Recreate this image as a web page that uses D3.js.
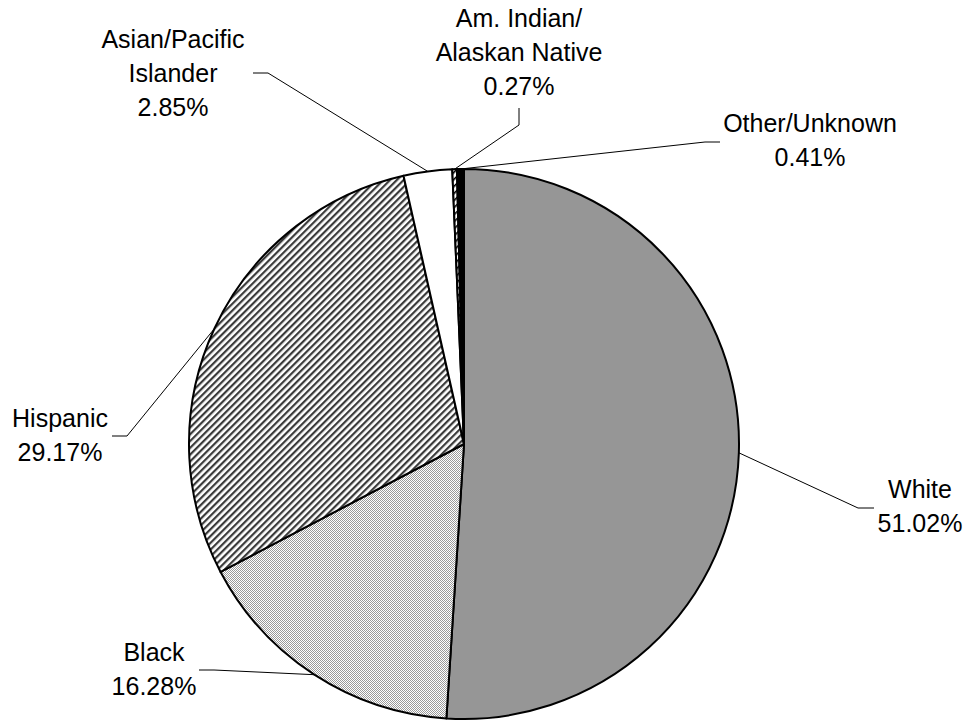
<!DOCTYPE html>
<html>
<head>
<meta charset="utf-8">
<script src="https://cdn.jsdelivr.net/npm/d3@7"></script>
<style>
  html, body { margin: 0; padding: 0; background: #fff; }
  svg { display: block; }
  text { font-family: "Liberation Sans", Arial, sans-serif; font-size: 25px; fill: #000; }
</style>
</head>
<body>
<svg id="chart" width="968" height="721"></svg>
<script>
// ---- data ----
const categories = ["White", "Black", "Hispanic", "Asian/Pacific Islander", "Am. Indian/Alaskan Native", "Other/Unknown"];
const values = [51.02, 16.28, 29.17, 2.85, 0.27, 0.41];
const labelLines = [
  ["White"],
  ["Black"],
  ["Hispanic"],
  ["Asian/Pacific", "Islander"],
  ["Am. Indian/", "Alaskan Native"],
  ["Other/Unknown"]
];

// ---- layout (positions/styles) ----
const cx = 464, cy = 444, R = 275;
const fills = ["#969696", "url(#dots)", "url(#stripes)", "#ffffff", "url(#hatch)", "#000000"];
const labelLayout = [
  { x: 920, y: 498, elbow: [858, 508], end: [874, 508] },
  { x: 154, y: 661, elbow: [214, 670], end: [199, 670] },
  { x: 60,  y: 427, elbow: [127, 436], end: [112, 436] },
  { x: 173, y: 48,  elbow: [268, 73],  end: [253, 73] },
  { x: 519, y: 27,  elbow: [519, 125], end: [519, 108] },
  { x: 810, y: 132, elbow: [705, 142], end: [720, 142] }
];
const lineH = 34;

const svg = d3.select("#chart");
const defs = svg.append("defs");

const pd = defs.append("pattern").attr("id", "dots").attr("patternUnits", "userSpaceOnUse")
  .attr("width", 2).attr("height", 2);
pd.append("rect").attr("width", 2).attr("height", 2).attr("fill", "#fff");
pd.append("rect").attr("x", 0).attr("y", 0).attr("width", 1).attr("height", 1).attr("fill", "#9a9a9a");
pd.append("rect").attr("x", 1).attr("y", 1).attr("width", 1).attr("height", 1).attr("fill", "#9a9a9a");

const ps = defs.append("pattern").attr("id", "stripes").attr("patternUnits", "userSpaceOnUse")
  .attr("width", 4.8).attr("height", 4.8).attr("patternTransform", "rotate(45)");
ps.append("rect").attr("width", 4.8).attr("height", 4.8).attr("fill", "#fff");
ps.append("rect").attr("x", 0).attr("y", 0).attr("width", 2.2).attr("height", 4.8).attr("fill", "#3a3a3a");

const ph = defs.append("pattern").attr("id", "hatch").attr("patternUnits", "userSpaceOnUse")
  .attr("width", 5).attr("height", 5).attr("patternTransform", "rotate(45)");
ph.append("rect").attr("width", 5).attr("height", 5).attr("fill", "#fff");
ph.append("rect").attr("x", 0).attr("y", 0).attr("width", 1.6).attr("height", 5).attr("fill", "#000");

const pie = d3.pie().sort(null).value(d => d).startAngle(0).endAngle(2 * Math.PI);
const arcs = pie(values);
const arc = d3.arc().innerRadius(0).outerRadius(R);

const g = svg.append("g").attr("transform", `translate(${cx},${cy})`);
g.selectAll("path.slice").data(arcs).enter().append("path")
  .attr("class", "slice")
  .attr("d", arc)
  .attr("fill", (d, i) => fills[i])
  .attr("stroke", "#000")
  .attr("stroke-width", 2)
  .attr("stroke-linejoin", "round");

const line = d3.line();
arcs.forEach((d, i) => {
  const a = (d.startAngle + d.endAngle) / 2;
  const p = [cx + R * Math.sin(a), cy - R * Math.cos(a)];
  const L = labelLayout[i];
  svg.append("path")
    .attr("d", line([p, L.elbow, L.end]))
    .attr("fill", "none").attr("stroke", "#000").attr("stroke-width", 1);
});

labelLines.forEach((lines, i) => {
  const L = labelLayout[i];
  const all = lines.concat([values[i].toFixed(2) + "%"]);
  const t = svg.append("text").attr("text-anchor", "middle");
  all.forEach((s, j) => {
    t.append("tspan").attr("x", L.x).attr("y", L.y + j * lineH).text(s);
  });
});
</script>
</body>
</html>
